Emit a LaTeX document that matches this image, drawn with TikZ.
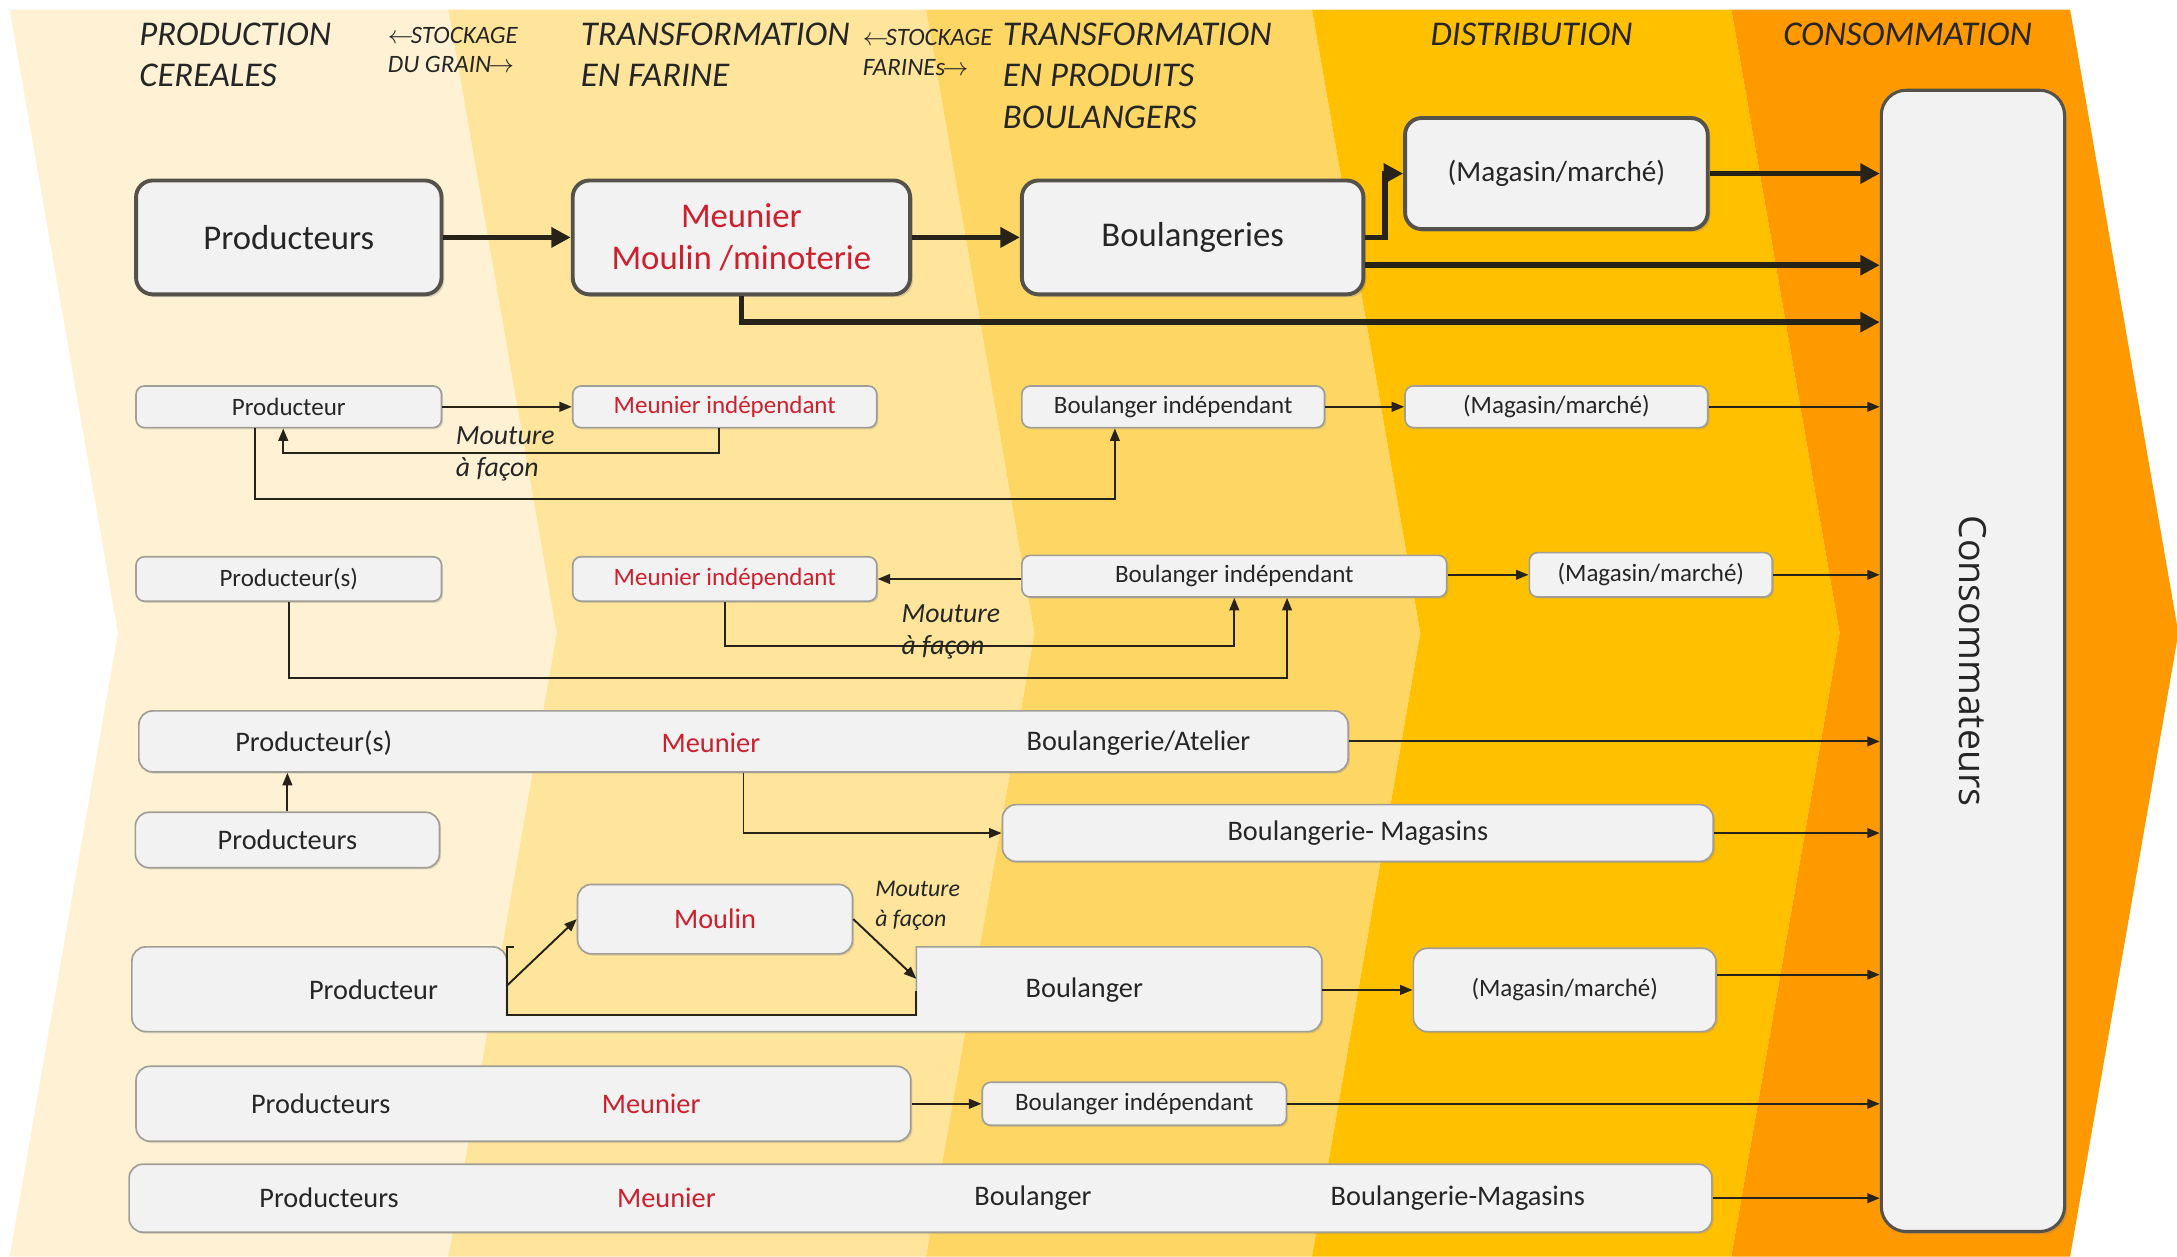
\documentclass[tikz,border=0pt]{standalone}
\usepackage{fontspec}
\setmainfont{Carlito}
\newfontfamily\consfont{Open Sans}
\usetikzlibrary{arrows.meta,shadows}

\definecolor{band1}{RGB}{255,242,212}
\definecolor{band2}{RGB}{254,229,155}
\definecolor{band3}{RGB}{254,214,100}
\definecolor{band4}{RGB}{255,192,0}
\definecolor{band5}{RGB}{255,153,0}
\definecolor{boxgray}{RGB}{242,242,242}
\definecolor{edgedark}{RGB}{85,82,75}
\definecolor{edgelight}{RGB}{160,158,150}
\definecolor{txt}{RGB}{38,38,38}
\definecolor{redtxt}{RGB}{204,32,46}
\definecolor{arrowcol}{RGB}{40,35,25}

\begin{document}
\begin{tikzpicture}[x=0.5pt,y=-0.5pt,
  bigbox/.style={draw=edgedark,line width=1.4pt,fill=boxgray,rounded corners=6pt,
    drop shadow={shadow xshift=1pt,shadow yshift=-1pt,opacity=0.3},
    text=txt,font=\fontsize{12.5}{15}\selectfont,align=center,inner sep=0pt},
  smallbox/.style={draw=edgelight,line width=0.6pt,fill=boxgray,rounded corners=3pt,
    drop shadow={shadow xshift=0.6pt,shadow yshift=-0.6pt,opacity=0.25},
    text=txt,font=\fontsize{9}{11}\selectfont,inner sep=0pt},
  longbox/.style={smallbox,rounded corners=5pt},
  intext/.style={text=txt,font=\fontsize{10.2}{12}\selectfont,inner sep=0pt},
  redword/.style={text=redtxt},
  header/.style={text=txt,font=\fontsize{12.5}{15}\selectfont\itshape,align=left,inner sep=0pt,anchor=north west},
  stock/.style={header,font=\fontsize{9}{10.5}\selectfont\itshape},
  note/.style={text=txt,font=\fontsize{10}{11.5}\selectfont\itshape,align=left,inner sep=0pt,anchor=north west},
  fatarrow/.style={draw=arrowcol,line width=2pt,-{Triangle[length=7pt,width=7pt]}},
  thinarrow/.style={draw=arrowcol,line width=0.7pt,-{Triangle[length=4.5pt,width=3.5pt]}}]

\useasboundingbox (0,0) rectangle (1568,905);
\fill[white] (0,0) rectangle (1568,905);

% chevron bands
\foreach \xl/\xr/\col in {7/323/band1,323/667/band2,667/945/band3,945/1247/band4,1247/1491/band5}
  \fill[\col] (\xl,7) -- (\xr,7) -- (\xr+78,456) -- (\xr,905) -- (\xl,905) -- (\xl+78,456) -- cycle;

% headers
\node[header] (hprod) at (100,16) {PRODUCTION\\CEREALES};
\node[stock] (hgrain) at (279,19) {$\leftarrow$\kern-1ptSTOCKAGE\\DU GRAIN\kern-1pt$\rightarrow$};
\node[header] (hfar) at (418,16) {TRANSFORMATION\\EN FARINE};
\node[stock] (hstock) at (621,21) {$\leftarrow$\kern-1ptSTOCKAGE\\FARINEs\kern-1pt$\rightarrow$};
\node[header] (hboul) at (722,16) {TRANSFORMATION\\EN PRODUITS\\BOULANGERS};
\node[header] (hdist) at (1030,16) {DISTRIBUTION};
\node[header] (hcons) at (1284,16) {CONSOMMATION};

% consommateurs
\node[bigbox,line width=1.1pt,rounded corners=9pt,minimum width=66pt,minimum height=411pt] (cons) at (1421,476) {};
\node[rotate=-90,text=txt,font=\consfont\fontsize{13.5}{16}\selectfont] (constxt) at (cons.center) {Consommateurs};

% row 1
\node[bigbox,minimum width=110pt,minimum height=41pt] (prod1) at (208,171) {Producteurs};
\node[bigbox,minimum width=121.5pt,minimum height=41pt,text=redtxt] (meu1) at (534,171) {Meunier\\Moulin /minoterie};
\node[bigbox,minimum width=123pt,minimum height=41pt] (bou1) at (859,171) {Boulangeries};
\node[bigbox,minimum width=109pt,minimum height=40pt,font=\fontsize{10.5}{12}\selectfont] (mag1) at (1121,125) {(Magasin/marché)};
\draw[fatarrow] (prod1) -- (meu1);
\draw[fatarrow] (meu1) -- (bou1);
\draw[fatarrow] (bou1.east) -- ++(14,0) |- (mag1.west);
\draw[fatarrow] (mag1) -- (mag1 -| cons.west);
\draw[fatarrow] (bou1.east |- 0,191) -- (cons.west |- 0,191);
\draw[fatarrow] (meu1.south) |- (cons.west |- 0,232);

% row 2
\node[smallbox,minimum width=110pt,minimum height=15pt] (pr2) at (208,293) {Producteur};
\node[smallbox,minimum width=109.5pt,minimum height=15pt,redword] (meu2) at (522,293) {Meunier indépendant};
\node[smallbox,minimum width=109pt,minimum height=15pt] (bo2) at (845,293) {Boulanger indépendant};
\node[smallbox,minimum width=109pt,minimum height=15pt] (mag2) at (1121,293) {(Magasin/marché)};
\node[note] (mf2) at (328,307) {Mouture\\à façon};
\draw[thinarrow] (pr2) -- (meu2);
\draw[thinarrow] ([xshift=-2pt]meu2.south) -- ++(0,18) -| ([xshift=-2pt]pr2.south);
\draw[thinarrow] ([xshift=-12pt]pr2.south) -- ++(0,51) -| ([xshift=-21pt]bo2.south);
\draw[thinarrow] (bo2) -- (mag2);
\draw[thinarrow] (mag2) -- (mag2 -| cons.west);

% row 3
\node[smallbox,minimum width=110pt,minimum height=16pt] (pr3) at (208,417) {Producteur(s)};
\node[smallbox,minimum width=109.5pt,minimum height=16pt,redword] (meu3) at (522,417) {Meunier indépendant};
\node[smallbox,minimum width=153pt,minimum height=15pt] (bo3) at (889,415) {Boulanger indépendant};
\node[smallbox,minimum width=87.5pt,minimum height=16pt] (mag3) at (1189,414) {(Magasin/marché)};
\node[note] (mf3) at (649,435) {Mouture\\à façon};
\draw[thinarrow] (bo3.west |- meu3.east) -- (meu3.east);
\draw[thinarrow] (meu3.south) -- ++(0,32) -| (bo3.south);
\draw[thinarrow] (pr3.south) -- ++(0,55) -| ([xshift=19pt]bo3.south);
\draw[thinarrow] (bo3.east |- mag3.west) -- (mag3.west);
\draw[thinarrow] (mag3) -- (mag3 -| cons.west);

% row 4
\node[longbox,minimum width=435.5pt,minimum height=22pt] (w4) at (535.5,534) {};
\node[intext] (pr4) at (226,535) {Producteur(s)};
\node[intext,redword] (meu4) at (512,535) {Meunier};
\node[intext] (bo4) at (820,535) {Boulangerie/Atelier};
\node[longbox,minimum width=109.5pt,minimum height=20pt,font=\fontsize{10.2}{12}\selectfont] (ps4) at (207,605) {Producteurs};
\node[longbox,minimum width=256pt,minimum height=20.5pt,font=\fontsize{10.2}{12}\selectfont] (bm4) at (978,600) {Boulangerie- Magasins};
\draw[thinarrow] (ps4.north) -- (ps4.north |- w4.south);
\draw[thinarrow] (w4.south) |- (bm4.west);
\draw[thinarrow] (w4.east) -- (w4.east -| cons.west);
\draw[thinarrow] (bm4.east) -- (bm4.east -| cons.west);

% row 5
\draw[draw=edgelight,line width=0.6pt,fill=boxgray,drop shadow={shadow xshift=0.6pt,shadow yshift=-0.6pt,opacity=0.25}]
  (95,712) [rounded corners=5pt] -- (95,682) -- (365,682) [sharp corners] -- (365,731) -- (660,731)
  -- (660,682) [rounded corners=5pt] -- (952,682) -- (952,743) -- (95,743) [sharp corners] -- cycle;
\node[smallbox,rounded corners=5pt,minimum width=99pt,minimum height=25pt,font=\fontsize{10.2}{12}\selectfont,redword] (mou5) at (515,662) {Moulin};
\node[longbox,minimum width=109pt,minimum height=30pt] (mag5) at (1127,713) {(Magasin/marché)};
\node[intext] (pr5) at (269,713) {Producteur};
\node[intext] (bo5) at (781,713) {Boulanger};
\node[note,font=\fontsize{8.6}{11}\selectfont\itshape] (mf5) at (630,634) {Mouture\\à façon};
\coordinate (n5a) at (370,682);
\coordinate (n5b) at (365,682);
\coordinate (n5c) at (365,731);
\coordinate (n5d) at (660,731);
\coordinate (n5e) at (660,714);
\coordinate (n5l) at (365,710);
\coordinate (n5r) at (660,705);
\coordinate (n5x) at (952,713);
\draw[draw=arrowcol,line width=0.8pt] (n5a) -- (n5b) -- (n5c) -- (n5d) -- (n5e);
\draw[thinarrow] (n5l) -- (mou5.west);
\draw[thinarrow] (mou5.east) -- (n5r);
\draw[thinarrow] (n5x) -- (mag5);
\draw[thinarrow] (mag5.east |- 0,702) -- (cons.west |- 0,702);

% row 6
\node[longbox,minimum width=279pt,minimum height=27pt] (w6) at (377,795) {};
\node[intext] (pr6) at (231,795) {Producteurs};
\node[intext,redword] (meu6) at (469,795) {Meunier};
\node[smallbox,minimum width=109.5pt,minimum height=15.5pt] (bo6) at (817,795) {Boulanger indépendant};
\draw[thinarrow] (w6) -- (bo6);
\draw[thinarrow] (bo6) -- (bo6 -| cons.west);

% row 7
\node[longbox,minimum width=570pt,minimum height=24.5pt] (w7) at (663,863) {};
\node[intext] (pr7) at (237,863) {Producteurs};
\node[intext,redword] (meu7) at (480,863) {Meunier};
\node[intext] (bo7) at (744,863) {Boulanger};
\node[intext] (bm7) at (1050,863) {Boulangerie-Magasins};
\draw[thinarrow] (w7) -- (w7 -| cons.west);

\end{tikzpicture}
\end{document}
